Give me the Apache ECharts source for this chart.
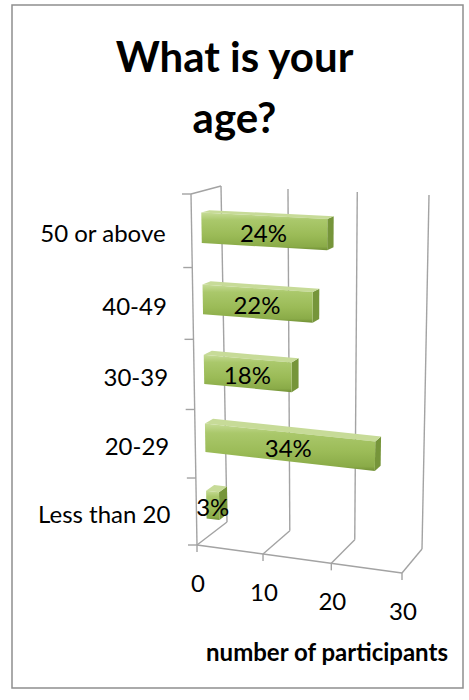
<!DOCTYPE html>
<html><head><meta charset="utf-8">
<script src="https://cdn.jsdelivr.net/npm/echarts@6/dist/echarts.min.js"></script>
<style>html,body{margin:0;padding:0;background:#fff}#chart{width:469px;height:700px}</style>
</head><body><div id="chart"></div>
<script>
// ---- data ----
const categories = ['Less than 20', '20-29', '30-39', '40-49', '50 or above'];
const participants = [2, 25, 13, 16, 18];
const percentLabels = ['3%', '34%', '18%', '22%', '24%'];
const xTicks = [0, 10, 20, 30];
const xTickLabels = ['0', '10', '20', '30'];
const chartTitle = 'What is your\nage?';
const axisTitle = 'number of participants';

// ---- 3D view (offsets relative to the grid rectangle) ----
const VIEW = {
  front: { tl: [-3, 0], tr: [8, 10], bl: [3, 0], br: [0, 28] },
  back:  { tl: [27, -8], tr: [27, 1], bl: [33, -23], br: [20, 4] },
  persU: 0.05, persV: 0.06,
  barFront: 0.33, barBack: 0.6, barHalf: 0.21
};
const LINE = '#a3a3a3';
const FONT = 'Lato, "Open Sans", sans-serif';

function lerp(a, b, t) { return [a[0] + (b[0] - a[0]) * t, a[1] + (b[1] - a[1]) * t]; }
function bil(q, u, w) { return lerp(lerp(q.bl, q.br, u), lerp(q.tl, q.tr, u), w); }

function projector(api) {
  const nCat = categories.length;
  const xMax = xTicks[xTicks.length - 1];
  const band = api.size([0, 1])[1];
  const c0 = api.coord([0, 0]);
  const L = c0[0], R = api.coord([xMax, 0])[0];
  const B = c0[1] + band / 2, T = B - band * nCat;
  const add = (p, o) => [p[0] + o[0], p[1] + o[1]];
  const F = { tl: add([L, T], VIEW.front.tl), tr: add([R, T], VIEW.front.tr),
              bl: add([L, B], VIEW.front.bl), br: add([R, B], VIEW.front.br) };
  const K = { tl: add([L, T], VIEW.back.tl), tr: add([R, T], VIEW.back.tr),
              bl: add([L, B], VIEW.back.bl), br: add([R, B], VIEW.back.br) };
  return function (v, c, z) {
    const x = api.coord([v, 0])[0];
    const y = c0[1] - c * band;
    let u = (x - L) / (R - L);
    let w = (B - y) / (B - T);
    const m = VIEW.persU, k = VIEW.persV;
    u = u * (1 - m) / (1 - m * u);
    let t = 1 - w; t = t * (1 + k) / (1 + k * t); w = 1 - t;
    return lerp(bil(F, u, w), bil(K, u, w), z);
  };
}

function line(points, extra) {
  return Object.assign({ type: 'polyline', shape: { points: points },
    style: { stroke: LINE, lineWidth: 1.4, fill: null }, silent: true }, extra || {});
}

const chart = echarts.init(document.getElementById('chart'), null, { renderer: 'svg' });
chart.setOption({
  animation: false,
  backgroundColor: '#fff',
  title: [
    { text: chartTitle, left: 'center', top: 20,
      textStyle: { fontFamily: FONT, fontWeight: 'bold', fontSize: 42, lineHeight: 61, color: '#000' } },
    { text: axisTitle, left: 322, top: 634, textAlign: 'center',
      textStyle: { fontFamily: FONT, fontWeight: 'bold', fontSize: 24, color: '#000' } }
  ],
  graphic: [{ type: 'rect', shape: { x: 12, y: 5, width: 451, height: 683 },
    style: { fill: null, stroke: '#8f8f8f', lineWidth: 1.5 }, silent: true }],
  grid: { left: 194, top: 194, width: 208, height: 351 },
  xAxis: { type: 'value', min: 0, max: 30, interval: 10, show: false },
  yAxis: { type: 'category', data: categories, show: false },
  series: [
    { // walls, floor lines, front axis and tick labels
      type: 'custom', name: 'axes', silent: true,
      data: xTicks.map((v, i) => [v, 0, xTickLabels[i]]),
      encode: { x: 0, y: 1 },
      renderItem: function (params, api) {
        const P = projector(api);
        const v = api.value(0);
        const top = categories.length - 0.5, bot = -0.5;
        const ch = [];
        ch.push(line([P(v, bot, 1), P(v, top, 1)]));
        ch.push(line([P(v, bot, 1), P(v, bot, 0)]));
        const f = P(v, bot, 0);
        ch.push(line([f, [f[0], f[1] + 7]]));
        ch.push({ type: 'text', silent: true, style: { text: xTickLabels[params.dataIndex],
          x: f[0] + 1, y: f[1] + 37, align: 'center', verticalAlign: 'middle',
          font: '24px ' + FONT, fill: '#000' } });
        if (params.dataIndex === 0) {
          const xMax = xTicks[xTicks.length - 1];
          ch.push(line([P(0, bot, 0), P(xMax, bot, 0)]));
          ch.push(line([P(0, bot, 0), P(0, top, 0)]));
          ch.push(line([P(0, top, 0), P(0, top, 1)]));
          for (let b = bot; b <= top + 0.001; b += 1) {
            const p = P(0, b, 0);
            ch.push(line([[p[0] - 9, p[1]], p]));
          }
        }
        return { type: 'group', children: ch };
      },
      z: 1
    },
    { // category labels
      type: 'custom', name: 'categories', silent: true,
      data: categories.map((c, i) => [0, i]),
      encode: { x: 0, y: 1 },
      renderItem: function (params, api) {
        const P = projector(api);
        const p = P(0, api.value(1), 0);
        return { type: 'text', silent: true, style: { text: categories[params.dataIndex],
          x: p[0] - 26, y: p[1] + 2, align: 'right', verticalAlign: 'middle',
          font: '24px ' + FONT, fill: '#000' } };
      },
      z: 2
    },
    { // 3D bars
      type: 'custom', name: 'participants',
      data: participants.map((v, i) => [v, i]),
      encode: { x: 0, y: 1 },
      renderItem: function (params, api) {
        const P = projector(api);
        const v = api.value(0), c = api.value(1);
        const lo = c - VIEW.barHalf, hi = c + VIEW.barHalf;
        const zf = VIEW.barFront, zb = VIEW.barBack;
        const right = [P(v, lo, zf), P(v, hi, zf), P(v, hi, zb), P(v, lo, zb)];
        const topF = [P(0, hi, zf), P(v, hi, zf), P(v, hi, zb), P(0, hi, zb)];
        const front = [P(0, lo, zf), P(v, lo, zf), P(v, hi, zf), P(0, hi, zf)];
        const ctr = P(v / 2, c, zf);
        return { type: 'group', children: [
          { type: 'polygon', shape: { points: right }, style: { fill: '#76953a' } },
          { type: 'polygon', shape: { points: topF }, style: { fill: '#c7db98' } },
          { type: 'polygon', shape: { points: front }, style: { fill:
            new echarts.graphic.LinearGradient(0, 0, 0, 1, [
              { offset: 0, color: '#c6db96' }, { offset: 0.2, color: '#aac86b' },
              { offset: 0.6, color: '#9bbb57' }, { offset: 0.9, color: '#8aab48' },
              { offset: 1, color: '#708f34' }]) } },
          { type: 'text', silent: true, style: { text: percentLabels[params.dataIndex],
            x: ctr[0], y: ctr[1] + 1, align: 'center', verticalAlign: 'middle',
            font: '24px ' + FONT, fill: '#000' } }
        ] };
      },
      z: 3
    }
  ]
});
</script></body></html>
